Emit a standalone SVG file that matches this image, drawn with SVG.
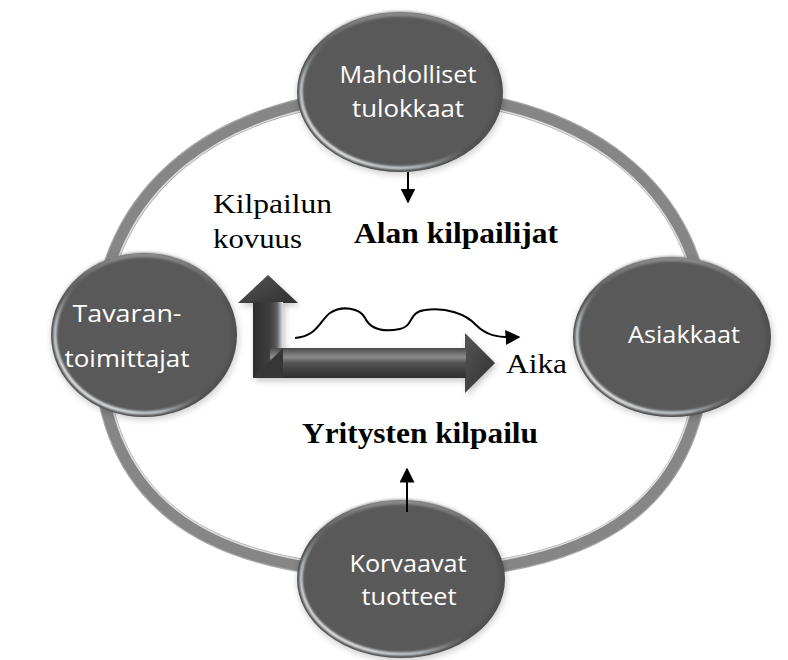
<svg xmlns="http://www.w3.org/2000/svg" width="788" height="660" viewBox="0 0 788 660">
  <defs>
    <style>
      .lbl { font-family: "Open Sans", "Liberation Sans", sans-serif; font-size: 24px; fill: #ffffff; }
      .ser { font-family: "Liberation Serif", "Times New Roman", serif; font-size: 28px; fill: #000000; }
      .serb { font-family: "Liberation Serif", "Times New Roman", serif; font-size: 30px; font-weight: bold; fill: #000000; }
      .node-body { fill: url(#nodeFill); }
      .node-shadow { fill: #000000; opacity: 0.18; filter: url(#soft); }
      .node-rim { fill: none; stroke: url(#rimGrad); stroke-width: 3; filter: url(#fine); }
      .node-top { fill: none; stroke: url(#topGrad); stroke-width: 5; filter: url(#fine); }
      .arrow { stroke: #000000; stroke-width: 2; fill: none; }
    </style>
    <filter id="soft" x="-20%" y="-20%" width="140%" height="140%">
      <feGaussianBlur stdDeviation="3"/>
    </filter>
    <filter id="fine" x="-10%" y="-10%" width="120%" height="120%">
      <feGaussianBlur stdDeviation="0.8"/>
    </filter>
    <radialGradient id="nodeFill" cx="0.5" cy="0.5" r="0.5">
      <stop offset="0" stop-color="#5a5a5a"/>
      <stop offset="0.92" stop-color="#595959"/>
      <stop offset="1" stop-color="#4e4e4e"/>
    </radialGradient>
    <linearGradient id="rimGrad" x1="0" y1="1" x2="1" y2="0">
      <stop offset="0.1" stop-color="#ffffff" stop-opacity="1"/>
      <stop offset="0.3" stop-color="#dfe9ef" stop-opacity="0.8"/>
      <stop offset="0.48" stop-color="#9a9a9a" stop-opacity="0"/>
      <stop offset="1" stop-color="#9a9a9a" stop-opacity="0"/>
    </linearGradient>
    <linearGradient id="topGrad" x1="0" y1="0" x2="0" y2="1">
      <stop offset="0" stop-color="#929292" stop-opacity="0.9"/>
      <stop offset="0.3" stop-color="#7a7a7a" stop-opacity="0"/>
      <stop offset="1" stop-color="#7a7a7a" stop-opacity="0"/>
    </linearGradient>
    <linearGradient id="hShaft" x1="0" y1="0" x2="0" y2="1">
      <stop offset="0" stop-color="#4a4a4a"/>
      <stop offset="0.3" stop-color="#8c8c8c"/>
      <stop offset="0.5" stop-color="#525252"/>
      <stop offset="1" stop-color="#2e2e2e"/>
    </linearGradient>
    <linearGradient id="vShaft" x1="0" y1="0" x2="1" y2="0">
      <stop offset="0" stop-color="#2e2e2e"/>
      <stop offset="0.6" stop-color="#404040"/>
      <stop offset="0.8" stop-color="#606060"/>
      <stop offset="1" stop-color="#dfe8ee"/>
    </linearGradient>
    <linearGradient id="headGrad" x1="0" y1="0" x2="1" y2="1">
      <stop offset="0" stop-color="#555555"/>
      <stop offset="1" stop-color="#303030"/>
    </linearGradient>
    <marker id="tri" viewBox="0 0 10 10" refX="9" refY="5" markerWidth="15" markerHeight="15" markerUnits="userSpaceOnUse" orient="auto">
      <path d="M0,0 L10,5 L0,10 Z" fill="#000000"/>
    </marker>
  </defs>

  <rect width="788" height="660" fill="#ffffff"/>

  <!-- outer ring linking the four forces -->
  <g id="ring">
    <path d="M401,94 C583,94 705,190 705,335 C705,495 610,573 401,573 C196,573 99,495 99,338 C99,192 220,94 401,94 Z" fill="none" stroke="#5e5e5e" stroke-width="14" opacity="0.55"/>
    <path d="M401,94 C583,94 705,190 705,335 C705,495 610,573 401,573 C196,573 99,495 99,338 C99,192 220,94 401,94 Z" fill="none" stroke="#868686" stroke-width="11.5"/>
    <path d="M401,99.5 C579,99.5 699.5,193 699.5,335 C699.5,491 606,567.5 401,567.5 C199,567.5 104.5,491 104.5,338 C104.5,195 223,99.5 401,99.5 Z" fill="none" stroke="#ffffff" stroke-width="1.5" opacity="0.7"/>
  </g>

  <!-- nodes -->
  <g id="node-top">
    <ellipse class="node-shadow" cx="401" cy="94" rx="104" ry="81"/>
    <ellipse class="node-body" cx="400" cy="92" rx="103" ry="80"/>
    <ellipse class="node-top" cx="400" cy="92" rx="101" ry="78"/>
    <ellipse class="node-rim" cx="400" cy="92" rx="99" ry="76"/>
    <text class="lbl" x="408" y="83" text-anchor="middle" textLength="137" lengthAdjust="spacingAndGlyphs">Mahdolliset</text>
    <text class="lbl" x="408" y="117" text-anchor="middle" textLength="112" lengthAdjust="spacingAndGlyphs">tulokkaat</text>
  </g>

  <g id="node-left">
    <ellipse class="node-shadow" cx="145" cy="337" rx="94" ry="83"/>
    <ellipse class="node-body" cx="144" cy="335" rx="93" ry="82"/>
    <ellipse class="node-top" cx="144" cy="335" rx="91" ry="80"/>
    <ellipse class="node-rim" cx="144" cy="335" rx="89" ry="78"/>
    <text class="lbl" x="127" y="322" text-anchor="middle" textLength="109" lengthAdjust="spacingAndGlyphs">Tavaran-</text>
    <text class="lbl" x="127" y="367" text-anchor="middle" textLength="125" lengthAdjust="spacingAndGlyphs">toimittajat</text>
  </g>

  <g id="node-right">
    <ellipse class="node-shadow" cx="673" cy="339" rx="100" ry="81"/>
    <ellipse class="node-body" cx="672" cy="337" rx="99" ry="80"/>
    <ellipse class="node-top" cx="672" cy="337" rx="97" ry="78"/>
    <ellipse class="node-rim" cx="672" cy="337" rx="95" ry="76"/>
    <text class="lbl" x="684" y="343" text-anchor="middle" textLength="112" lengthAdjust="spacingAndGlyphs">Asiakkaat</text>
  </g>

  <g id="node-bottom">
    <ellipse class="node-shadow" cx="402" cy="581" rx="105" ry="80"/>
    <ellipse class="node-body" cx="401" cy="579" rx="104" ry="79"/>
    <ellipse class="node-top" cx="401" cy="579" rx="102" ry="77"/>
    <ellipse class="node-rim" cx="401" cy="579" rx="100" ry="75"/>
    <text class="lbl" x="408" y="572" text-anchor="middle" textLength="117" lengthAdjust="spacingAndGlyphs">Korvaavat</text>
    <text class="lbl" x="409" y="605" text-anchor="middle" textLength="95" lengthAdjust="spacingAndGlyphs">tuotteet</text>
  </g>

  <!-- axis arrows: competition intensity over time -->
  <g id="axes">
    <polygon points="268,275 298,303 283,303 283,348 465,348 465,333 495,363 465,393 465,378 253,378 253,303 238,303" fill="#000000" opacity="0.22" filter="url(#soft)" transform="translate(2,3)"/>
    <polygon points="268,275 298,303 238,303" fill="url(#headGrad)"/>
    <polygon points="465,333 495,363 465,393" fill="url(#headGrad)"/>
    <rect x="253" y="302" width="30" height="76" fill="url(#vShaft)"/>
    <rect x="270" y="348" width="196" height="30" fill="url(#hShaft)"/>
    <polygon points="253,378 283,348 283,378" fill="#363636"/>
  </g>

  <!-- connectors -->
  <g id="connectors">
    <line class="arrow" x1="408" y1="172" x2="408" y2="202" marker-end="url(#tri)"/>
    <line class="arrow" x1="407" y1="512" x2="407" y2="469" marker-end="url(#tri)"/>
    <path class="arrow" d="M295,338 C318,336 320,320 330,313 C342,305 360,308 365,318 C371,330 385,332 400,329 C414,326 408,312 425,310 C446,307 466,314 476,325 C486,335 496,338 519,337" marker-end="url(#tri)"/>
  </g>

  <!-- free labels -->
  <g id="labels">
    <text class="ser" x="213" y="213" textLength="119" lengthAdjust="spacingAndGlyphs">Kilpailun</text>
    <text class="ser" x="213" y="248" textLength="89" lengthAdjust="spacingAndGlyphs">kovuus</text>
    <text class="serb" x="354" y="243" textLength="204" lengthAdjust="spacingAndGlyphs">Alan kilpailijat</text>
    <text class="serb" x="302" y="443" textLength="236" lengthAdjust="spacingAndGlyphs">Yritysten kilpailu</text>
    <text class="ser" x="506" y="373" textLength="61" lengthAdjust="spacingAndGlyphs">Aika</text>
  </g>
</svg>
